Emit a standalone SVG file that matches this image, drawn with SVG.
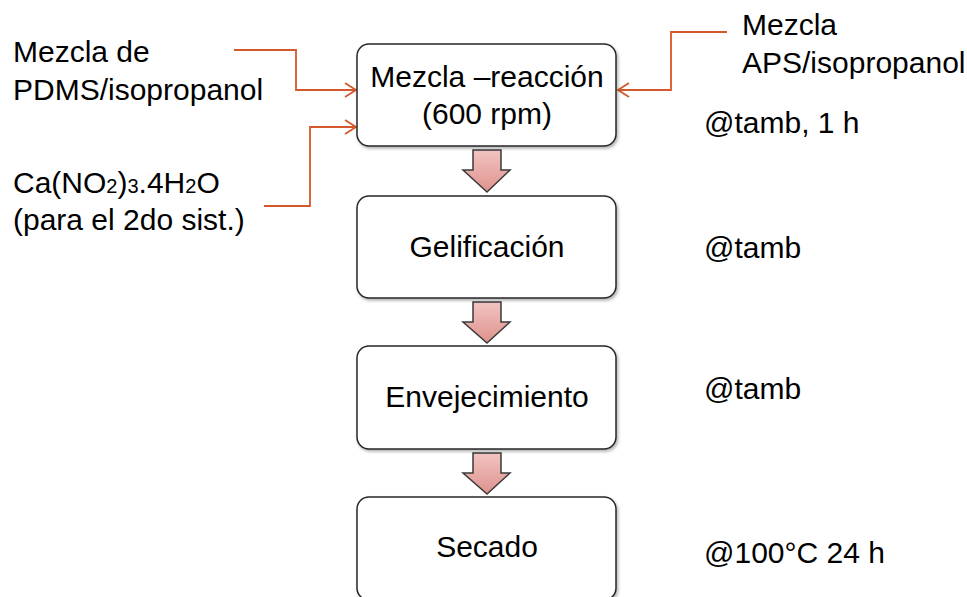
<svg xmlns="http://www.w3.org/2000/svg" width="967" height="597" viewBox="0 0 967 597">
<style>
text{font-family:"Liberation Sans",Arial,sans-serif;font-size:30px;fill:#000}
.box{fill:#fff;stroke:#262626;stroke-width:1.5}
.mid{text-anchor:middle}
.con{fill:none;stroke:#D4582C;stroke-width:1.8}
.blk{fill:url(#pk);stroke:#3a3a3a;stroke-width:1.5;stroke-linejoin:miter}
.sub{font-size:20px}
</style>
<defs>
<marker id="oa" markerWidth="14" markerHeight="16" refX="12" refY="8" orient="auto" markerUnits="userSpaceOnUse">
<path d="M1,1 L12,8 L1,15" fill="none" stroke="#D4582C" stroke-width="1.8"/>
</marker>
<linearGradient id="pk" x1="0" y1="0" x2="0" y2="1">
<stop offset="0" stop-color="#F2C4C1"/>
<stop offset="1" stop-color="#DE928D"/>
</linearGradient>
<filter id="sh" x="-5%" y="-5%" width="115%" height="120%">
<feDropShadow dx="1.5" dy="2" stdDeviation="1.5" flood-color="#000" flood-opacity="0.3"/>
</filter>
</defs>
<g id="connectors">
<polyline class="con" points="234,50 296,50 296,90 356,90" marker-end="url(#oa)"/>
<polyline class="con" points="264,206 310,206 310,127 356,127" marker-end="url(#oa)"/>
<polyline class="con" points="727,32 671,32 671,90 618,90" marker-end="url(#oa)"/>
<path class="blk" d="M473,150 L501,150 L501,170 L510,170 L487,192 L463,170 L473,170 Z"/>
<path class="blk" d="M473,302 L501,302 L501,322 L510,322 L487,343 L463,322 L473,322 Z"/>
<path class="blk" d="M473,453 L501,453 L501,473 L510,473 L487,494 L463,473 L473,473 Z"/>
</g>
<g id="n1"><rect class="box" x="357" y="44" width="259" height="102" rx="12" filter="url(#sh)"/>
<text class="mid" x="487" y="87">Mezcla –reacción</text><text class="mid" x="487" y="124">(600 rpm)</text></g>
<g id="n2"><rect class="box" x="357" y="196" width="259" height="102" rx="12" filter="url(#sh)"/>
<text class="mid" x="487" y="257">Gelificación</text></g>
<g id="n3"><rect class="box" x="357" y="346" width="259" height="103" rx="12" filter="url(#sh)"/>
<text class="mid" x="487" y="407">Envejecimiento</text></g>
<g id="n4"><rect class="box" x="357" y="497" width="259" height="103" rx="12" filter="url(#sh)"/>
<text class="mid" x="487" y="557">Secado</text></g>
<g id="labels">
<text x="13" y="62">Mezcla de</text>
<text x="13" y="100">PDMS/isopropanol</text>
<text x="13" y="193">Ca(NO<tspan class="sub">2</tspan>)<tspan class="sub">3</tspan>.4H<tspan class="sub">2</tspan>O</text>
<text x="13" y="230">(para el 2do sist.)</text>
<text x="742" y="35">Mezcla</text>
<text x="742" y="73">APS/isopropanol</text>
<text x="704" y="133">@tamb, 1 h</text>
<text x="704" y="258">@tamb</text>
<text x="704" y="399">@tamb</text>
<text x="704" y="563">@100°C 24 h</text>
</g>
</svg>
